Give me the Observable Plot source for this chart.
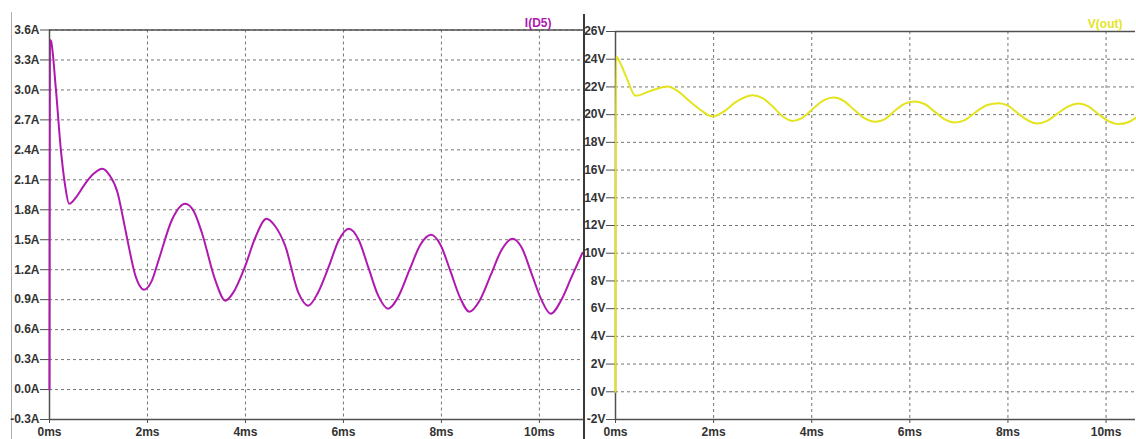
<!DOCTYPE html>
<html>
<head>
<meta charset="utf-8">
<script src="https://cdn.jsdelivr.net/npm/d3@7"></script>
<script src="https://cdn.jsdelivr.net/npm/@observablehq/plot@0.6"></script>
<style>
  html, body { margin: 0; padding: 0; background: #ffffff; }
  #wrap { position: relative; width: 1136px; height: 439px; overflow: hidden; background: #ffffff; }
  #left { position: absolute; left: 0; top: 0; }
  #right { position: absolute; left: 584px; top: 0; }
  #divider { position: absolute; left: 583px; top: 14px; width: 2px; height: 425px; background: #3a3a3a; }
  #border { position: absolute; left: 11px; top: 12px; width: 1px; height: 427px; background: #b0b0b0; }
  svg { overflow: visible; }
</style>
</head>
<body>
<div id="wrap">
  <div id="border"></div>
  <div id="left"></div>
  <div id="right"></div>
  <div id="divider"></div>
</div>
<script>
// ---- data ----
const msTicks = [0, 2, 4, 6, 8, 10];
const ampTicks = [-0.3, 0.0, 0.3, 0.6, 0.9, 1.2, 1.5, 1.8, 2.1, 2.4, 2.7, 3.0, 3.3, 3.6];
const voltTicks = [-2, 0, 2, 4, 6, 8, 10, 12, 14, 16, 18, 20, 22, 24, 26];

const tD5 = [0, 0.01, 0.03, 0.13, 0.23, 0.32, 0.40, 0.55, 0.74, 0.90, 1.08, 1.22, 1.39, 1.50, 1.59, 1.76, 1.93,
  2.08, 2.23, 2.50, 2.77, 2.95, 3.11, 3.38, 3.59, 3.75, 3.99, 4.20, 4.43, 4.60, 4.81, 5.08, 5.28,
  5.48, 5.70, 5.90, 6.11, 6.31, 6.51, 6.71, 6.91, 7.12, 7.35, 7.57, 7.79, 7.98, 8.18, 8.38, 8.57,
  8.79, 9.01, 9.23, 9.45, 9.64, 9.84, 10.04, 10.23, 10.45, 10.65, 10.88];
const iD5 = [0, 3.50, 3.49, 3.01, 2.41, 2.04, 1.86, 1.93, 2.07, 2.16, 2.21, 2.15, 1.97, 1.72, 1.50, 1.13, 1.00,
  1.08, 1.30, 1.70, 1.86, 1.78, 1.57, 1.10, 0.89, 0.97, 1.23, 1.52, 1.71, 1.64, 1.44, 0.97, 0.84,
  0.97, 1.23, 1.49, 1.61, 1.50, 1.22, 0.94, 0.81, 0.93, 1.20, 1.45, 1.55, 1.45, 1.19, 0.92, 0.78,
  0.90, 1.15, 1.40, 1.51, 1.42, 1.16, 0.90, 0.76, 0.90, 1.12, 1.37];

const tOut = [0, 0.01, 0.04, 0.21, 0.41, 0.70, 1.06, 1.25, 1.50, 1.75, 1.98, 2.20, 2.45, 2.79, 3.00, 3.20, 3.40, 3.60,
  3.80, 4.05, 4.25, 4.45, 4.65, 4.85, 5.05, 5.30, 5.50, 5.70, 5.90, 6.11, 6.31, 6.51, 6.71, 6.92,
  7.12, 7.35, 7.58, 7.81, 8.00, 8.20, 8.40, 8.59, 8.80, 9.02, 9.23, 9.44, 9.64, 9.84, 10.04, 10.25, 10.45, 10.62];
const vOut = [0, 24.2, 24.1, 22.8, 21.36, 21.7, 22.03, 21.75, 21.0, 20.3, 19.86, 20.2, 20.9, 21.4, 21.2, 20.6, 19.9, 19.55,
  19.75, 20.5, 21.05, 21.23, 21.0, 20.4, 19.8, 19.48, 19.7, 20.3, 20.8, 20.95, 20.75, 20.2, 19.65, 19.43,
  19.6, 20.2, 20.7, 20.83, 20.65, 20.1, 19.6, 19.36, 19.55, 20.1, 20.6, 20.8, 20.6, 20.05, 19.55, 19.32, 19.45, 19.8];

const d5 = tD5.map((t, k) => ({t, v: iD5[k]}));
const out = tOut.map((t, k) => ({t, v: vOut[k]}));

const purple = "#b018b0";
const yellow = "#e4e41e";
const frameColor = "#505050";
const gridColor = "#767676";

const baseStyle = {
  background: "transparent",
  fontFamily: "'Liberation Sans', Arial, sans-serif",
  fontWeight: "bold",
  fontSize: "12px",
  color: "#333333",
  overflow: "visible"
};

function panel({width, marginLeft, marginTop, xDomain, yDomain, yTicks, unitFmt, data, color, label, labelDx, labelDy}) {
  return Plot.plot({
    width, height: 439,
    marginLeft, marginRight: 1, marginTop, marginBottom: 20,
    x: {domain: xDomain, label: null},
    y: {domain: yDomain, label: null},
    style: baseStyle,
    marks: [
      Plot.gridY(yTicks, {stroke: gridColor, strokeOpacity: 1, strokeDasharray: "3,3"}),
      Plot.gridX(msTicks.filter(d => d > 0), {stroke: gridColor, strokeOpacity: 1, strokeDasharray: "3,3"}),
      Plot.ruleY([yDomain[1]], {stroke: frameColor, strokeWidth: 1.5}),
      Plot.ruleY([yDomain[0]], {stroke: frameColor, strokeWidth: 1.5}),
      Plot.ruleX([0], {stroke: frameColor, strokeWidth: 1.5}),
      Plot.axisY(yTicks, {label: null, tickFormat: unitFmt, tickSize: 9, tickPadding: 1, stroke: frameColor, fontWeight: "bold", fontSize: 12}),
      Plot.axisX(msTicks, {label: null, tickFormat: d => d + "ms", tickSize: 4, tickPadding: 4, stroke: frameColor, fontWeight: "bold", fontSize: 12}),
      Plot.line(data, {x: "t", y: "v", stroke: color, strokeWidth: 2, curve: "monotone-x"}),
      Plot.text([label], {frameAnchor: "top-right", textAnchor: "end", lineAnchor: "bottom", dx: labelDx, dy: labelDy,
        fill: color, fontSize: 12, fontWeight: "bold"})
    ]
  });
}

document.getElementById("left").append(panel({
  width: 584, marginLeft: 49, marginTop: 29.5,
  xDomain: [0, 10.9], yDomain: [-0.3, 3.6], yTicks: ampTicks,
  unitFmt: d => d.toFixed(1) + "A",
  data: d5, color: purple, label: "I(D5)", labelDx: -32, labelDy: -3
}));

document.getElementById("right").append(panel({
  width: 552, marginLeft: 31, marginTop: 31,
  xDomain: [0, 10.6], yDomain: [-2, 26], yTicks: voltTicks,
  unitFmt: d => d + "V",
  data: out, color: yellow, label: "V(out)", labelDx: -13, labelDy: -4
}));
</script>
</body>
</html>
